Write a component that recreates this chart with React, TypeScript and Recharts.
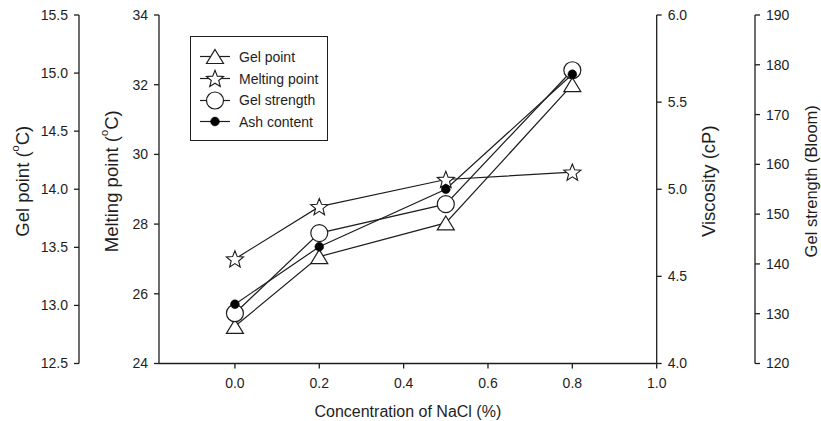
import { ComposedChart, Line, XAxis, YAxis } from 'recharts'

const FONT = '"Liberation Sans", Arial, sans-serif'
const INK = '#1e1e1e'

// NaCl concentration (%)
const conc = [0, 0.2, 0.5, 0.8]
// each against its own axis
const gelPoint = [12.82, 13.42, 13.71, 14.9]
const meltingPoint = [27.0, 28.5, 29.28, 29.49]
const gelStrength = [130.1, 146.2, 152.0, 178.9]
const ashContent = [4.34, 4.67, 5.0, 5.66]

const xTicks = [0, 0.2, 0.4, 0.6, 0.8, 1.0]
const gelTicks = [12.5, 13.0, 13.5, 14.0, 14.5, 15.0, 15.5]
const meltTicks = [24, 26, 28, 30, 32, 34]
const viscTicks = [4.0, 4.5, 5.0, 5.5, 6.0]
const bloomTicks = [120, 130, 140, 150, 160, 170, 180, 190]

const seriesNames = ['Gel point', 'Melting point', 'Gel strength', 'Ash content']

const data = conc.map((c, i) => ({
  conc: c,
  gelPoint: gelPoint[i],
  meltingPoint: meltingPoint[i],
  gelStrength: gelStrength[i],
  ashContent: ashContent[i],
}))

function TriangleDot(props: any) {
  const { cx, cy } = props
  if (cx == null || cy == null) return null
  const w = 8.5
  const h = 7
  return (
    <polygon
      points={`${cx},${cy - h} ${cx + w},${cy + h} ${cx - w},${cy + h}`}
      fill="white"
      stroke={INK}
      strokeWidth={1.2}
    />
  )
}

function starPoints(cx: number, cy: number, ro: number, ri: number) {
  const pts: string[] = []
  for (let k = 0; k < 10; k++) {
    const r = k % 2 === 0 ? ro : ri
    const a = -Math.PI / 2 + (k * Math.PI) / 5
    pts.push(`${cx + r * Math.cos(a)},${cy + r * Math.sin(a)}`)
  }
  return pts.join(' ')
}

function StarDot(props: any) {
  const { cx, cy } = props
  if (cx == null || cy == null) return null
  return <polygon points={starPoints(cx, cy + 0.8, 9, 3.9)} fill="white" stroke={INK} strokeWidth={1.1} />
}

function OpenCircleDot(props: any) {
  const { cx, cy } = props
  if (cx == null || cy == null) return null
  return <circle cx={cx} cy={cy} r={8.5} fill="white" stroke={INK} strokeWidth={1.2} />
}

function FilledDot(props: any) {
  const { cx, cy } = props
  if (cx == null || cy == null) return null
  return <circle cx={cx} cy={cy} r={4.4} fill="#000" stroke="#000" strokeWidth={0.5} />
}

const legendShapes = [TriangleDot, StarDot, OpenCircleDot, FilledDot]

// rotated axis title; a trailing "(" gets a raised "o" and "C)" appended
function verticalTitle(text: string, shift: number, size = 18.5) {
  return (props: any) => {
    const vb = props.viewBox
    const x = vb.x + shift
    const y = vb.y + vb.height / 2 - 8
    return (
      <text
        x={x}
        y={y}
        transform={`rotate(-90, ${x}, ${y})`}
        textAnchor="middle"
        dominantBaseline="central"
        fontSize={size}
        fill={INK}
        fontFamily={FONT}
      >
        {text}
        {text.endsWith('(') && (
          <>
            <tspan dy={-7} fontSize={11}>o</tspan>
            <tspan dy={7}>C)</tspan>
          </>
        )}
      </text>
    )
  }
}

function XTitle(props: any) {
  const vb = props.viewBox
  return (
    <text
      x={vb.x + vb.width / 2}
      y={vb.y + 48}
      textAnchor="middle"
      dominantBaseline="central"
      fontSize={16}
      fill={INK}
      fontFamily={FONT}
    >
      Concentration of NaCl (%)
    </text>
  )
}

const tickStyle = { fontSize: 14, fill: INK, fontFamily: FONT }
const lineStyle = { stroke: INK, strokeWidth: 1.3 }

function Legend() {
  return (
    <div
      style={{
        position: 'absolute',
        left: 190,
        top: 36,
        width: 138,
        height: 105,
        boxSizing: 'border-box',
        border: `1.5px solid ${INK}`,
        background: 'white',
        paddingTop: 9,
      }}
    >
      {seriesNames.map((name, i) => {
        const Shape = legendShapes[i]
        return (
          <div key={name} style={{ display: 'flex', alignItems: 'center', height: 21.7 }}>
            <svg width={48} height={21} style={{ flex: 'none' }}>
              <line x1={9} y1={10.5} x2={39} y2={10.5} stroke={INK} strokeWidth={1.2} />
              <Shape cx={24} cy={10.5} />
            </svg>
            <span style={{ fontSize: 14, color: INK, fontFamily: FONT, whiteSpace: 'nowrap' }}>{name}</span>
          </div>
        )
      })}
    </div>
  )
}

export default function App() {
  return (
    <div style={{ position: 'absolute', left: 0, top: 0, width: 821, height: 421, background: 'white', fontFamily: FONT }}>
      <ComposedChart width={821} height={421} data={data} margin={{ top: 15, right: 0, bottom: 0, left: 0 }}>
        <XAxis
          dataKey="conc"
          type="number"
          domain={[-0.18, 1.0]}
          ticks={xTicks}
          allowDataOverflow
          tickFormatter={(v: number) => v.toFixed(1)}
          tick={tickStyle}
          tickSize={5}
          tickMargin={10}
          axisLine={lineStyle}
          tickLine={lineStyle}
          height={57.5}
          label={{ content: XTitle }}
        />
        <XAxis
          xAxisId="top"
          orientation="top"
          type="number"
          domain={[-0.18, 1.0]}
          height={0}
          tick={false}
          tickLine={false}
          axisLine={lineStyle}
        />
        {/* axis ids sorted: "a_" sits next to the plot, "b_" outside it */}
        <YAxis
          yAxisId="a_melt"
          orientation="left"
          domain={[24, 34]}
          ticks={meltTicks}
          allowDataOverflow
          tick={tickStyle}
          tickSize={5}
          tickMargin={6}
          axisLine={lineStyle}
          tickLine={lineStyle}
          width={80}
          label={{ content: verticalTitle('Melting point (', 32) }}
        />
        <YAxis
          yAxisId="b_gel"
          orientation="left"
          domain={[12.5, 15.5]}
          ticks={gelTicks}
          allowDataOverflow
          tickFormatter={(v: number) => v.toFixed(1)}
          tick={tickStyle}
          tickSize={5}
          tickMargin={6}
          axisLine={lineStyle}
          tickLine={lineStyle}
          width={79}
          label={{ content: verticalTitle('Gel point (', 22) }}
        />
        <YAxis
          yAxisId="a_visc"
          orientation="right"
          domain={[4, 6]}
          ticks={viscTicks}
          allowDataOverflow
          tickFormatter={(v: number) => v.toFixed(1)}
          tick={tickStyle}
          tickSize={5}
          tickMargin={6}
          axisLine={lineStyle}
          tickLine={lineStyle}
          width={98.3}
          label={{ content: verticalTitle('Viscosity (cP)', 52) }}
        />
        <YAxis
          yAxisId="b_bloom"
          orientation="right"
          domain={[120, 190]}
          ticks={bloomTicks}
          allowDataOverflow
          tick={tickStyle}
          tickSize={5}
          tickMargin={6}
          axisLine={lineStyle}
          tickLine={lineStyle}
          width={66}
          label={{ content: verticalTitle('Gel strength (Bloom)', 55.5, 16.5) }}
        />
        <Line yAxisId="b_gel" dataKey="gelPoint" stroke={INK} strokeWidth={1.2} dot={<TriangleDot />} activeDot={false} isAnimationActive={false} />
        <Line yAxisId="a_melt" dataKey="meltingPoint" stroke={INK} strokeWidth={1.2} dot={<StarDot />} activeDot={false} isAnimationActive={false} />
        <Line yAxisId="b_bloom" dataKey="gelStrength" stroke={INK} strokeWidth={1.2} dot={<OpenCircleDot />} activeDot={false} isAnimationActive={false} />
        <Line yAxisId="a_visc" dataKey="ashContent" stroke={INK} strokeWidth={1.2} dot={<FilledDot />} activeDot={false} isAnimationActive={false} />
      </ComposedChart>
      <Legend />
    </div>
  )
}
